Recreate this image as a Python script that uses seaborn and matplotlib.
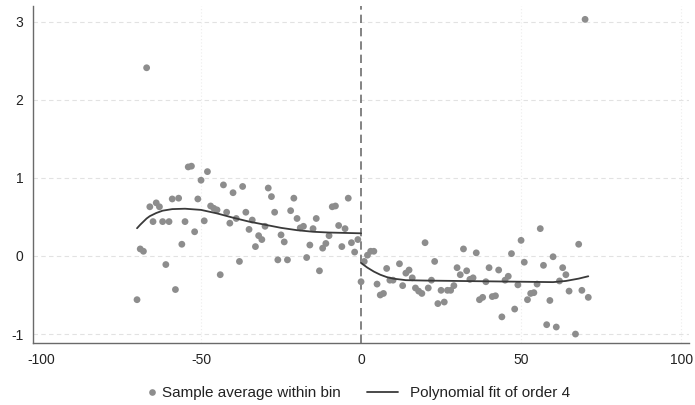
import numpy as np
import pandas as pd
import matplotlib
matplotlib.use("Agg")
import matplotlib.pyplot as plt
import seaborn as sns
from matplotlib.lines import Line2D

# Bin averages (left of cutoff)
left_x = list(range(-70, 0))
left_y = [-0.56, 0.09, 0.06, 2.41, 0.63, 0.44, 0.68, 0.63, 0.44, -0.11,
          0.44, 0.73, -0.43, 0.74, 0.15, 0.44, 1.14, 1.15, 0.31, 0.73,
          0.97, 0.45, 1.08, 0.64, 0.61, 0.59, -0.24, 0.91, 0.56, 0.42,
          0.81, 0.48, -0.07, 0.89, 0.56, 0.34, 0.46, 0.12, 0.26, 0.21,
          0.38, 0.87, 0.76, 0.56, -0.05, 0.27, 0.18, -0.05, 0.58, 0.74,
          0.48, 0.36, 0.38, -0.02, 0.14, 0.35, 0.48, -0.19, 0.10, 0.16,
          0.26, 0.63, 0.64, 0.39, 0.12, 0.35, 0.74, 0.17, 0.05, 0.21]

# Bin averages (right of cutoff)
right_x = [0, 1, 2, 3, 4, 5, 6, 7, 8, 9, 10, 12, 13, 14, 15, 16, 17, 18, 19, 20,
           21, 22, 23, 24, 25, 26, 27, 28, 29, 30, 31, 32, 33, 34, 35, 36, 37, 38,
           39, 40, 41, 42, 43, 44, 45, 46, 47, 48, 49, 50, 51, 52, 53, 54, 55, 56,
           57, 58, 59, 60, 61, 62, 63, 64, 65, 67, 68, 69, 70, 71]
right_y = [-0.33, -0.07, 0.01, 0.06, 0.06, -0.36, -0.50, -0.48, -0.16, -0.31,
           -0.31, -0.10, -0.38, -0.22, -0.18, -0.28, -0.41, -0.45, -0.48, 0.17,
           -0.41, -0.31, -0.07, -0.61, -0.44, -0.59, -0.44, -0.44, -0.38, -0.15,
           -0.24, 0.09, -0.19, -0.30, -0.28, 0.04, -0.56, -0.53, -0.33, -0.15,
           -0.52, -0.51, -0.18, -0.78, -0.31, -0.26, 0.03, -0.68, -0.37, 0.20,
           -0.08, -0.56, -0.48, -0.47, -0.36, 0.35, -0.12, -0.88, -0.57, -0.01,
           -0.91, -0.32, -0.15, -0.24, -0.45, -1.00, 0.15, -0.44, 3.03, -0.53]

# Polynomial fit (order 4)
fit_left_x = [-70, -69, -68, -67, -66, -64, -62, -59, -55, -50, -45, -40, -35, -30, -25, -20, -15, -10, -5, 0]
fit_left_y = [0.355, 0.40, 0.44, 0.48, 0.51, 0.55, 0.58, 0.60, 0.605, 0.59, 0.545, 0.49, 0.44, 0.40, 0.36, 0.33, 0.31, 0.30, 0.295, 0.29]
fit_right_x = [0, 2, 4, 6, 8, 10, 14, 20, 30, 40, 50, 60, 64, 68, 71]
fit_right_y = [-0.09, -0.15, -0.20, -0.24, -0.27, -0.29, -0.31, -0.315, -0.32, -0.325, -0.33, -0.335, -0.32, -0.29, -0.26]

x_ticks = [-100, -50, 0, 50, 100]
y_ticks = [-1, 0, 1, 2, 3]

sns.set_style("white")
plt.rcParams['font.family'] = ['Liberation Sans', 'DejaVu Sans']

bins = pd.DataFrame({"x": left_x + right_x, "y": left_y + right_y})
fit_l = pd.DataFrame({"x": fit_left_x, "y": fit_left_y})
fit_r = pd.DataFrame({"x": fit_right_x, "y": fit_right_y})

fig = plt.figure(figsize=(6.95, 4.05), dpi=100)
ax = fig.add_axes([0.0475, 0.153, 0.944, 0.832])

for yt in y_ticks:
    ax.axhline(yt, color="#e2e2e2", lw=0.8, ls=(0, (4, 3)), zorder=0)
for xt in [-50, 50, 100]:
    ax.axvline(xt, color="#ececec", lw=0.8, ls=(0, (1, 2)), zorder=0)

sns.scatterplot(data=bins, x="x", y="y", ax=ax, color="#8d8d8d", s=24,
                edgecolor="none", zorder=3, legend=False)
sns.lineplot(data=fit_l, x="x", y="y", ax=ax, color="#3a3a3a", lw=1.3, zorder=4, legend=False)
sns.lineplot(data=fit_r, x="x", y="y", ax=ax, color="#3a3a3a", lw=1.3, zorder=4, legend=False)

ax.axvline(0, color="#6e6e6e", lw=1.2, ls=(0, (5, 3)), zorder=2)

ax.set_xlim(-102.5, 102.5)
ax.set_ylim(-1.115, 3.2)
ax.set_xticks(x_ticks)
ax.set_yticks(y_ticks)
ax.set_xticklabels([str(t) for t in x_ticks])
ax.set_yticklabels([str(t) for t in y_ticks])
ax.set_xlabel("")
ax.set_ylabel("")

for side in ["top", "right"]:
    ax.spines[side].set_visible(False)
for side in ["left", "bottom"]:
    ax.spines[side].set_color("#6a6a6a")
    ax.spines[side].set_linewidth(1.0)
ax.tick_params(axis="both", which="both", direction="out", length=4, width=0.9,
               color="#6a6a6a", labelsize=10, labelcolor="#222222", pad=3)

fs = 11
leg_y = (405 - 393) / 405
h1 = [Line2D([], [], marker="o", ls="none", color="#8d8d8d", markersize=4.8, markeredgewidth=0)]
leg1 = fig.legend(h1, ["Sample average within bin"], loc="center left",
                  bbox_to_anchor=(147 / 695, leg_y), frameon=False, fontsize=fs,
                  handlelength=0.6, handletextpad=0.35, borderpad=0, borderaxespad=0,
                  labelcolor="#222222")
h2 = [Line2D([], [], color="#3a3a3a", lw=1.3)]
leg2 = fig.legend(h2, ["Polynomial fit of order 4"], loc="center left",
                  bbox_to_anchor=(367 / 695, leg_y), frameon=False, fontsize=fs,
                  handlelength=2.03, handletextpad=0.79, borderpad=0, borderaxespad=0,
                  labelcolor="#222222")

fig.savefig("out.png", dpi=100)
